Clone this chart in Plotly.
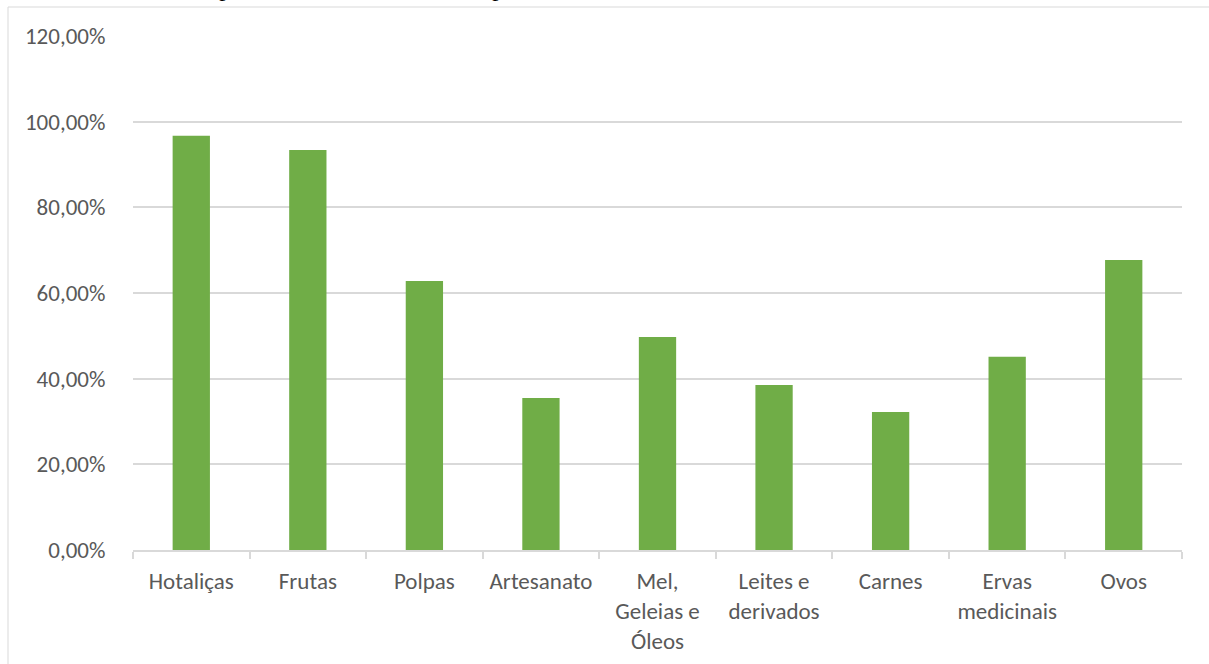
import plotly.graph_objects as go

# Produtos e percentual de entrevistados que os consomem
categorias = ["Hotaliças", "Frutas", "Polpas", "Artesanato",
              "Mel,<br>Geleias e<br>Óleos", "Leites e<br>derivados",
              "Carnes", "Ervas<br>medicinais", "Ovos"]
percentuais = [0.967, 0.934, 0.628, 0.355, 0.497, 0.385, 0.322, 0.451, 0.677]

titulo = "Gráfico 6: Quais os produtos mais consumidos pelos entrevistados"

W, H = 1209, 664
L, R, T, B = 133, 27, 36, 114
ph = H - T - B
pw = W - L - R

cinza_txt = "#595959"
cinza_grade = "#d9d9d9"
fonte = "Carlito, Lato, sans-serif"
tam = 23

fig = go.Figure(go.Bar(
    x=categorias,
    y=percentuais,
    marker=dict(color="#70AD47", line=dict(width=0)),
    width=0.32,
))

fig.update_layout(
    width=W, height=H, autosize=False,
    margin=dict(l=L, r=R, t=T, b=B, pad=0),
    paper_bgcolor="white", plot_bgcolor="white",
    separators=",.",
    showlegend=False,
    font=dict(family=fonte, size=tam, color=cinza_txt),
    xaxis=dict(
        type="category", automargin=False,
        showline=True, linecolor=cinza_grade, linewidth=1.5,
        ticks="outside", tickson="boundaries", ticklen=7,
        tickcolor=cinza_grade, tickwidth=1.5,
        showgrid=False,
        tickfont=dict(family=fonte, size=tam, color=cinza_txt),
        ticklabelstandoff=10,
    ),
    yaxis=dict(
        automargin=False,
        range=[0, 1.2], dtick=0.2, tickformat=".2%",
        showgrid=True, gridcolor=cinza_grade, gridwidth=1.5,
        zeroline=False, showline=False,
        ticks="outside", ticklen=22, tickcolor="rgba(0,0,0,0)",
        tickfont=dict(family=fonte, size=tam, color=cinza_txt),
    ),
    shapes=[dict(
        type="rect", xref="paper", yref="paper",
        x0=(8 - L) / pw, x1=(W + 20 - L) / pw,
        y0=-(B + 20) / ph, y1=(H - B - 7) / ph,
        line=dict(color=cinza_grade, width=1), fillcolor="rgba(0,0,0,0)",
        layer="below",
    )],
    annotations=[dict(
        text=titulo, showarrow=False,
        xref="paper", yref="paper",
        x=(16 - L) / pw, xanchor="left",
        y=(H - B + 12.5) / ph, yanchor="middle",
        font=dict(family="Liberation Serif", size=25, color="black"),
    )],
)

fig.write_html("out.html")
